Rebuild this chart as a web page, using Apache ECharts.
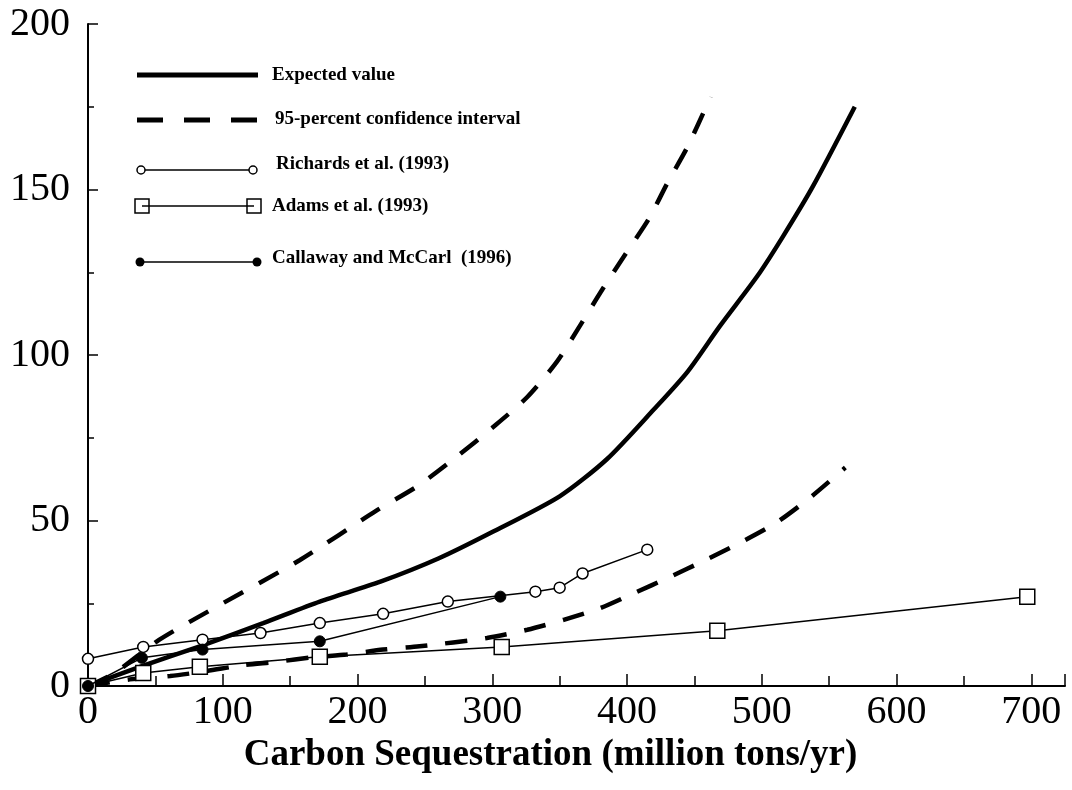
<!DOCTYPE html>
<html><head><meta charset="utf-8">
<script src="https://cdn.jsdelivr.net/npm/echarts@6/dist/echarts.min.js"></script>
<style>html,body{margin:0;padding:0;background:#fff}#c{width:1072px;height:790px}</style>
</head><body><div id="c"></div>
<script>
// Data (x: million tons/yr, y: $/ton)
const expectedValue = [[0,0],[40,6],[83,12],[130,19],[172,25.5],[217,31.5],[260,38.5],[300,46.5],[350,57.3],[385,68.5],[420,83.6],[445,95],[469,108.8],[497,124],[516,136],[538,151],[569,175]];
const upperCI = [[0,0],[20,4],[53,14],[100,25],[157,38],[214,53],[245,60.5],[274,69.4],[300,78],[326,87.3],[348,98],[365,108.8],[382,120],[399,130.6],[416,141],[430,152],[445,163],[462,178]];
const lowerCI = [[0,0],[31,2],[61,3],[88,4.5],[115,6.3],[140,7.3],[167,8.7],[192,9.5],[219,11],[246,12],[296,14.5],[326,17],[353,20],[380,23.5],[405,28],[432,33],[458,38],[484,43.3],[511,49.4],[537,57.3],[562,66]];
const richards = [[0,8.2],[41,11.8],[85,14],[128,16],[172,19],[219,21.8],[267,25.5],[332,28.5],[350,29.7],[367,34],[415,41.2]];
const adams = [[0,0],[41,3.9],[83,5.8],[172,8.8],[307,11.8],[467,16.7],[697,27]];
const callaway = [[0,0],[40,8.5],[85,11],[172,13.5],[306,27]];
const legendLabels = ['Expected value','95-percent confidence interval','Richards et al. (1993)','Adams et al. (1993)','Callaway and McCarl  (1996)'];
const xTitle = 'Carbon Sequestration (million tons/yr)';

const chart = echarts.init(document.getElementById('c'));
const serif = '"Liberation Serif","DejaVu Serif",serif';
const legTxt = (x,y,t)=>({type:'text',x:x,y:y,style:{text:t,font:'bold 19px '+serif,fill:'#000',verticalAlign:'middle'}});
chart.setOption({
  animation:false,
  grid:{left:88,right:7,top:24,bottom:104},
  xAxis:{type:'value',min:0,max:725,interval:100,
    name:xTitle,nameLocation:'middle',nameGap:40,
    nameTextStyle:{fontFamily:serif,fontWeight:'bold',fontSize:37,color:'#000',padding:[0,52,0,0]},
    axisLine:{lineStyle:{color:'#000',width:2}},
    axisTick:{inside:true,length:12,lineStyle:{color:'#000',width:1.5}},
    minorTick:{show:true,splitNumber:2,length:10,lineStyle:{color:'#000',width:1.5}},
    splitLine:{show:false},
    axisLabel:{fontFamily:serif,fontSize:40,color:'#000',margin:6,showMaxLabel:false}},
  yAxis:{type:'value',min:0,max:200,interval:50,
    axisLine:{show:true,lineStyle:{color:'#000',width:2}},
    axisTick:{show:true,inside:true,length:10,lineStyle:{color:'#000',width:1.5}},
    minorTick:{show:true,splitNumber:2,length:6,lineStyle:{color:'#000',width:1.5}},
    splitLine:{show:false},
    axisLabel:{fontFamily:serif,fontSize:40,color:'#000',margin:18}},
  series:[
    {type:'line',data:adams,symbol:'rect',symbolSize:15,showSymbol:true,
      lineStyle:{color:'#000',width:1.5},itemStyle:{color:'#fff',borderColor:'#000',borderWidth:1.5},z:3},
    {type:'line',data:lowerCI,symbol:'none',smooth:0.25,lineStyle:{color:'#000',width:4.5,type:[22,18]},z:2},
    {type:'line',data:upperCI,symbol:'none',smooth:0.25,lineStyle:{color:'#000',width:4.5,type:[22,18]},z:2},
    {type:'line',data:expectedValue,symbol:'none',smooth:0.25,lineStyle:{color:'#000',width:4.5},z:2},
    {type:'line',data:richards,symbol:'circle',symbolSize:11,
      lineStyle:{color:'#000',width:1.5},itemStyle:{color:'#fff',borderColor:'#000',borderWidth:1.5},z:4},
    {type:'line',data:callaway,symbol:'circle',symbolSize:11,
      lineStyle:{color:'#000',width:1.5},itemStyle:{color:'#000',borderColor:'#000',borderWidth:1},z:5}
  ],
  graphic:[
    {type:'line',shape:{x1:137,y1:75,x2:258,y2:75},style:{stroke:'#000',lineWidth:5}},
    legTxt(272,75,legendLabels[0]),
    {type:'line',shape:{x1:137,y1:120,x2:258,y2:120},style:{stroke:'#000',lineWidth:5,lineDash:[26,21]}},
    legTxt(275,119,legendLabels[1]),
    {type:'line',shape:{x1:141,y1:170,x2:253,y2:170},style:{stroke:'#000',lineWidth:1.5}},
    {type:'circle',shape:{cx:141,cy:170,r:4},style:{fill:'#fff',stroke:'#000',lineWidth:1.5}},
    {type:'circle',shape:{cx:253,cy:170,r:4},style:{fill:'#fff',stroke:'#000',lineWidth:1.5}},
    legTxt(276,164,legendLabels[2]),
    {type:'line',shape:{x1:142,y1:206,x2:254,y2:206},style:{stroke:'#000',lineWidth:1.5}},
    {type:'rect',shape:{x:135,y:199,width:14,height:14},style:{fill:'none',stroke:'#000',lineWidth:1.5}},
    {type:'rect',shape:{x:247,y:199,width:14,height:14},style:{fill:'none',stroke:'#000',lineWidth:1.5}},
    legTxt(272,206,legendLabels[3]),
    {type:'line',shape:{x1:140,y1:262,x2:257,y2:262},style:{stroke:'#000',lineWidth:1.5}},
    {type:'circle',shape:{cx:140,cy:262,r:4.5},style:{fill:'#000'}},
    {type:'circle',shape:{cx:257,cy:262,r:4.5},style:{fill:'#000'}},
    legTxt(272,258,legendLabels[4])
  ]
});
</script></body></html>
